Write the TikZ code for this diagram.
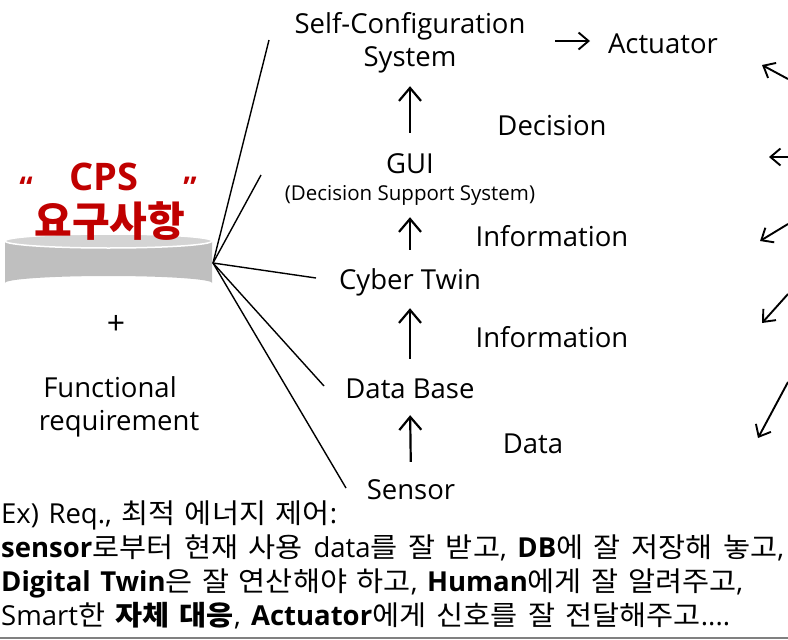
\documentclass[tikz,border=0pt]{standalone}
\usepackage{fontspec}
\setmainfont{Open Sans}
\newfontfamily\kr{Noto Sans CJK KR}
\newfontfamily\krw[FakeStretch=1.07]{Noto Sans CJK KR}
\usetikzlibrary{arrows.meta}
\definecolor{cpsred}{HTML}{C00000}
\definecolor{cylbody}{HTML}{BFBFBF}
\definecolor{cyltop}{HTML}{D4D4D4}
\newcommand{\evenline}[2]{\makebox[#1][s]{\frenchspacing\spaceskip=6pt plus 1fil\xspaceskip=6pt plus 1fil #2}}
\tikzset{
  lbl/.style={inner sep=0pt, anchor=base, font=\fontsize{27.5}{27.5}\selectfont, text height=20pt, text depth=6pt},
  small/.style={inner sep=0pt, anchor=base, font=\fontsize{20.5}{20.5}\selectfont, text height=14pt, text depth=5pt},
  up/.style={line width=2.2pt, -{Straight Barb[length=13pt,width=22pt,line width=2.2pt]}},
  side/.style={line width=1.9pt, -{Straight Barb[length=10pt,width=17pt,line width=1.9pt]}},
  spoke/.style={line width=1.4pt},
  body/.style={inner sep=0pt, anchor=base west, font=\fontsize{27.5}{27.5}\selectfont}
}
\begin{document}
\begin{tikzpicture}[x=1pt,y=-1pt]
\useasboundingbox (0,0) rectangle (788,640);
% cylinder
\fill[cylbody] (5,241) -- (5,283) arc[start angle=180,end angle=360,x radius=103.5,y radius=7] -- (212,241) -- cycle;
\fill[cyltop, draw=white, line width=1.5pt] (108.5,241) ellipse[x radius=103.5, y radius=7];
\coordinate (hub) at (213,263);
% CPS title
\node[text=cpsred, font=\fontsize{38}{38}\selectfont\bfseries, inner sep=0pt, anchor=base] (cps) at (104,190) {CPS};
\node[text=cpsred, font=\fontsize{30}{30}\selectfont\bfseries, inner sep=0pt, anchor=base] (q1) at (26,198) {“};
\node[text=cpsred, font=\fontsize{30}{30}\selectfont\bfseries, inner sep=0pt, anchor=base] (q2) at (190,198) {”};
\node[text=cpsred, font=\kr\fontsize{41}{41}\selectfont\bfseries, inner sep=0pt] (req) at (110,221) {요구사항};
\node[inner sep=0pt, font=\fontsize{32}{32}\selectfont] (plus) at (116,325) {+};
\node[lbl] (func) at (110,397) {Functional};
\node[lbl] (freq) at (119,430) {requirement};
% column
\node[lbl] (selfconf) at (410,33) {Self-Configuration};
\node[lbl] (sys) at (410,66) {System};
\node[lbl] (act) at (663,53) {Actuator};
\node[lbl] (dec) at (552,135) {Decision};
\node[lbl] (gui) at (410,173) {GUI};
\node[small] (dss) at (410,200) {(Decision Support System)};
\node[lbl] (inf1) at (552,246) {Information};
\node[lbl] (cyber) at (410,289) {Cyber Twin};
\node[lbl] (inf2) at (552,347) {Information};
\node[lbl] (db) at (410,398) {Data Base};
\node[lbl] (data) at (533,453) {Data};
\node[lbl] (sensor) at (411,499) {Sensor};
% vertical arrows
\draw[up, shorten <=17pt, shorten >=11pt] (sensor.north) -- (db.south);
\draw[up, shorten <=19pt, shorten >=13pt] (db.north) -- (cyber.south);
\draw[up, shorten <=19pt, shorten >=12pt] (cyber.north) -- (dss.south);
\draw[up, shorten <=20pt, shorten >=14pt] (gui.north) -- (sys.south);
\draw[side] ([xshift=-108pt,yshift=12pt]act.base) -- ([xshift=-73pt,yshift=12pt]act.base);
% spokes
\draw[spoke] (hub) -- ([xshift=-141pt,yshift=-7pt]selfconf.base);
\draw[spoke] (hub) -- ([xshift=-149pt,yshift=-2pt]gui.base);
\draw[spoke] (hub) -- ([xshift=-94pt,yshift=11pt]cyber.base);
\draw[spoke] (hub) -- ([xshift=-86pt,yshift=12pt]db.base);
\draw[spoke] (hub) -- ([xshift=-65pt,yshift=11pt]sensor.base);
% right edge arrows
\coordinate (r1s) at (788,79); \coordinate (r1e) at (762,65);
\coordinate (r2s) at (788,157); \coordinate (r2e) at (769,157);
\coordinate (r3s) at (788,224); \coordinate (r3e) at (760,241);
\coordinate (r4s) at (788,294); \coordinate (r4e) at (762,323);
\coordinate (r5s) at (788,382); \coordinate (r5e) at (758,438);
\draw[side] (r1s) -- (r1e);
\draw[side] (r2s) -- (r2e);
\draw[side] (r3s) -- (r3e);
\draw[side] (r4s) -- (r4e);
\draw[side] (r5s) -- (r5e);
% bottom text
\node[body] (l1) at (1,523) {\evenline{336pt}{Ex) Req., {\krw 최적 에너지 제어}:}};
\node[body] (l2) at (1,557) {\evenline{783pt}{\textbf{sensor}{\krw 로부터 현재 사용 }data{\krw 를 잘 받고}, \textbf{DB}{\krw 에 잘 저장해 놓고},}};
\node[body] (l3) at (1,591) {\evenline{742pt}{\textbf{Digital Twin}{\krw 은 잘 연산해야 하고}, \textbf{Human}{\krw 에게 잘 알려주고},}};
\node[body] (l4) at (1,625) {\evenline{729pt}{Smart{\krw 한 \textbf{자체 대응}}, \textbf{Actuator}{\krw 에게 신호를 잘 전달해주고}....}};
\coordinate (bl) at (0,638); \coordinate (br) at (788,638);
\draw[line width=2pt, gray] (bl) -- (br);
\end{tikzpicture}
\end{document}
